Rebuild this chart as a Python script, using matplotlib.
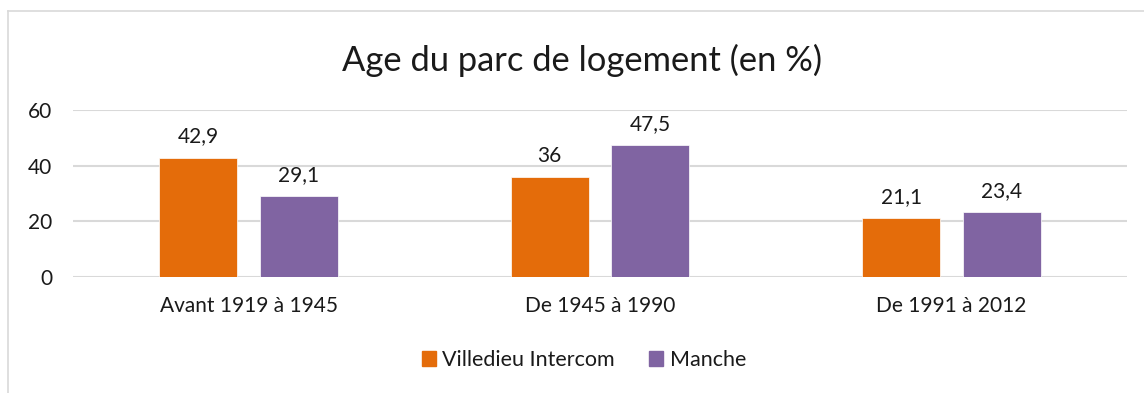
import numpy as np
import matplotlib.pyplot as plt
from matplotlib.patches import Patch
from matplotlib.lines import Line2D

plt.rcParams['font.family'] = ['Lato', 'DejaVu Sans']

categories = ['Avant 1919 à 1945', 'De 1945 à 1990', 'De 1991 à 2012']
villedieu = [42.9, 36, 21.1]
manche = [29.1, 47.5, 23.4]
series_names = ['Villedieu Intercom', 'Manche']

orange = '#E46C0A'
purple = '#8064A2'

fig = plt.figure(figsize=(11.44, 3.93), dpi=100)

# chart frame (left and top edges)
fig.add_artist(Line2D([8 / 1144, 8 / 1144], [0, 1 - 11 / 393], color='#D9D9D9', lw=1.2))
fig.add_artist(Line2D([8 / 1144, 1], [1 - 11 / 393, 1 - 11 / 393], color='#D9D9D9', lw=1.2))

ax = fig.add_axes([73 / 1144, 1 - 277 / 393, (1127 - 73) / 1144, (277 - 110) / 393])

x = np.arange(len(categories))
w = 0.222
off = 0.143
b1 = ax.bar(x - off, villedieu, w, color=orange, edgecolor='white', linewidth=0.5, zorder=3)
b2 = ax.bar(x + off, manche, w, color=purple, edgecolor='white', linewidth=0.5, zorder=3)

fmt = lambda v: ('%g' % v).replace('.', ',')
for bars, vals in ((b1, villedieu), (b2, manche)):
    for r, v in zip(bars, vals):
        ax.annotate(fmt(v), (r.get_x() + r.get_width() / 2, v), xytext=(0, 8),
                    textcoords='offset points', ha='center', va='bottom', fontsize=15, color='#1a1a1a')

ax.set_xlim(-0.5, 2.5)
ax.set_ylim(0, 60)
ax.set_yticks([0, 20, 40, 60])
ax.set_xticks(x)
ax.set_xticklabels(categories)
ax.tick_params(axis='both', length=0, labelsize=15, labelcolor='#1a1a1a')
ax.tick_params(axis='y', pad=15)
ax.tick_params(axis='x', pad=14)
ax.yaxis.grid(True, color='#D9D9D9', lw=1.5, zorder=0)
for s in ax.spines.values():
    s.set_visible(False)

fig.text(582 / 1144, 1 - 60 / 393, 'Age du parc de logement (en %)', ha='center', va='center',
         fontsize=24.8, color='#1a1a1a')

handles = [Patch(color=orange), Patch(color=purple)]
fig.legend(handles, series_names, loc='center', bbox_to_anchor=(584 / 1144, 1 - 360 / 393), ncol=2,
           frameon=False, fontsize=15.5, handlelength=0.65, handleheight=0.65, handletextpad=0.3,
           columnspacing=1.6, labelcolor='#1a1a1a')

fig.savefig('out.png', dpi=100)
